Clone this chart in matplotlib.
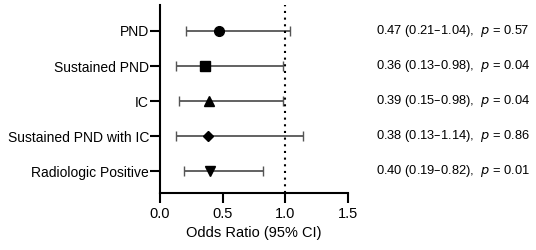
import matplotlib
matplotlib.use('Agg')
import matplotlib.pyplot as plt

labels = ['PND', 'Sustained PND', 'IC', 'Sustained PND with IC', 'Radiologic Positive']
odds = [0.47, 0.36, 0.39, 0.38, 0.40]
ci_low = [0.21, 0.13, 0.15, 0.13, 0.19]
ci_high = [1.04, 0.98, 0.98, 1.14, 0.82]
pvals = ['0.57', '0.04', '0.04', '0.86', '0.01']
markers = ['o', 's', '^', 'D', 'v']
msizes = [7, 7, 7, 5, 7]

plt.rcParams['font.family'] = ['Liberation Sans', 'DejaVu Sans']

fig = plt.figure(figsize=(5.36, 2.5), dpi=100)
ax = fig.add_axes([160/536, 1-193/250, (347.7-160)/536, (193-5)/250])

for i in range(len(labels)):
    ax.errorbar(odds[i], i, xerr=[[odds[i]-ci_low[i]], [ci_high[i]-odds[i]]],
                fmt='none', ecolor='#555555', elinewidth=1.3, capsize=3.5, capthick=1.0)
    ax.plot(odds[i], i, marker=markers[i], color='black', markersize=msizes[i], linestyle='none')
    txt = '%.2f (%.2f\u2013%.2f),  $\\it{p}$ = %s' % (odds[i], ci_low[i], ci_high[i], pvals[i])
    fig.text(376/536, 1-(31+35*i)/250, txt, fontsize=9.3, va='center', ha='left')

ax.axvline(1.0, color='black', linestyle=(0, (1, 2.2)), linewidth=1.5)

ax.set_xlim(0, 1.5)
ax.set_ylim(4.62, -0.74)
ax.set_xticks([0, 0.5, 1.0, 1.5])
ax.set_xticklabels(['0.0', '0.5', '1.0', '1.5'], fontsize=10.5)
ax.set_yticks(range(len(labels)))
ax.set_yticklabels(labels, fontsize=10)
ax.set_xlabel('Odds Ratio (95% CI)', fontsize=10.5, labelpad=4)

for s in ['top', 'right']:
    ax.spines[s].set_visible(False)
for s in ['left', 'bottom']:
    ax.spines[s].set_linewidth(1.5)
ax.tick_params(axis='both', width=1.5, length=7, color='black')
ax.tick_params(axis='y', pad=1)
ax.tick_params(axis='x', pad=3)

fig.savefig('out.png', dpi=100)
